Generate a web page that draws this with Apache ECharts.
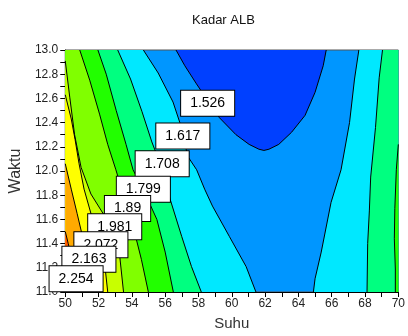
<!DOCTYPE html>
<html>
<head>
<meta charset="utf-8">
<script src="https://cdn.jsdelivr.net/npm/echarts@6/dist/echarts.min.js"></script>
<style>
  html, body { margin: 0; padding: 0; background: #fff; }
  #chart { width: 408px; height: 336px; }
</style>
</head>
<body>
<div id="chart"></div>
<script>
// contour levels (Kadar ALB) and band colours, low -> high
const levels = ['1.526', '1.617', '1.708', '1.799', '1.89', '1.981', '2.072', '2.163', '2.254']
const bandColors = ['#0040ff', '#0096ff', '#00e8ff', '#00ff80', '#22ff00', '#80ff00', '#c8ff00', '#ffff00', '#ffaa00', '#ff5500']

// contour lines, [Suhu, Waktu]
const cup1526 = [[56.65, 13], [57.18, 12.87], [57.88, 12.72], [58.66, 12.56], [59.26, 12.44], [60.25, 12.30],
  [61.04, 12.22], [61.63, 12.18], [61.93, 12.17], [62.23, 12.18], [62.82, 12.22], [63.59, 12.32],
  [64.40, 12.46], [65.00, 12.65], [65.49, 12.87], [65.67, 13]]
const left1617 = [[54.69, 13], [55.58, 12.81], [56.47, 12.57], [56.88, 12.40], [57.12, 12.26], [57.36, 12.12],
  [57.89, 12.01], [58.37, 11.85], [58.84, 11.71], [59.85, 11.46], [60.86, 11.21], [61.45, 11]]
const right1617 = [[67.63, 13], [67.37, 12.76], [67.07, 12.40], [66.56, 12.01], [65.96, 11.74], [65.37, 11.33],
  [65.00, 11.11], [64.90, 11]]
const left1708 = [[53.15, 13], [53.92, 12.76], [54.61, 12.49], [55.20, 12.24], [55.70, 12.06], [56.05, 11.89],
  [56.29, 11.77], [56.99, 11.46], [57.58, 11.21], [58.17, 11]]
const right1708 = [[69.05, 13], [68.85, 12.77], [68.63, 12.36], [68.34, 11.95], [68.26, 11.67], [68.16, 11.40], [68.12, 11]]
const left1799 = [[51.96, 13], [52.46, 12.80], [53.06, 12.50], [53.65, 12.22], [54.07, 12.01], [54.81, 11.81],
  [55.50, 11.60], [56.00, 11.33], [56.49, 11]]
const right1799 = [[70, 12.22], [69.88, 12.01], [69.79, 11.69], [69.76, 11.44], [69.82, 11.19], [69.82, 11]]
const left1890 = [[50.87, 13], [51.47, 12.75], [52.06, 12.47], [52.55, 12.22], [53.04, 12.01], [53.74, 11.69],
  [54.15, 11.50], [54.57, 11.27], [54.99, 11]]
const left1981 = [[50, 12.91], [50.27, 12.61], [50.56, 12.30], [50.95, 12.03], [51.54, 11.81], [52.31, 11.64],
  [52.97, 11.52], [53.26, 11.31], [53.50, 11]]
const left2072 = [[50, 12.63], [50.36, 12.43], [50.59, 12.26], [50.83, 12.06], [51.13, 11.85], [51.54, 11.65],
  [52.14, 11.39], [52.37, 11.23], [52.55, 11]]
const left2163 = [[50, 12.06], [50.36, 11.85], [50.71, 11.65], [51.07, 11.44], [51.42, 11.27], [51.72, 11.15], [51.96, 11]]
const left2254 = [[50, 11.50], [50.18, 11.40], [50.42, 11.26], [50.65, 11.11], [50.89, 11]]

// contour label positions [Suhu, Waktu]
const labelPos = [[58.55, 12.56], [57.06, 12.29], [55.82, 12.06], [54.69, 11.85], [53.74, 11.69],
  [52.97, 11.54], [52.14, 11.39], [51.42, 11.27], [50.65, 11.11]]

const xMin = 50
const xMax = 70
const yMin = 11
const yMax = 13

// each line: which level, which side holds the higher values
const contours = [
  { level: 0, pts: cup1526, side: null },
  { level: 1, pts: left1617, side: 'left' },
  { level: 1, pts: right1617, side: 'right' },
  { level: 2, pts: left1708, side: 'left' },
  { level: 2, pts: right1708, side: 'right' },
  { level: 3, pts: left1799, side: 'left' },
  { level: 3, pts: right1799, side: 'right' },
  { level: 4, pts: left1890, side: 'left' },
  { level: 5, pts: left1981, side: 'left' },
  { level: 6, pts: left2072, side: 'left' },
  { level: 7, pts: left2163, side: 'left' },
  { level: 8, pts: left2254, side: 'left' }
]

// filled regions: cup is the low band, the rest are "above level" regions closed on their side
const polys = contours.map(c => {
  if (c.side === null) {
    return { pts: c.pts, color: bandColors[0] }
  }
  const edge = c.side === 'left' ? xMin : xMax
  const pts = c.pts.slice()
  pts.push([edge, yMin])
  if (c.pts[0][1] === yMax) pts.push([edge, yMax])
  return { pts: pts, color: bandColors[c.level + 1] }
})

const font = 'Liberation Sans, Arial, sans-serif'

const series = []
series.push({
  type: 'custom',
  data: polys.map((p, i) => [i]),
  silent: true,
  z: 1,
  renderItem (params, api) {
    const p = polys[params.dataIndex]
    return {
      type: 'polygon',
      shape: { points: p.pts.map(pt => api.coord(pt)) },
      style: { fill: p.color, stroke: null }
    }
  }
})
contours.forEach(c => {
  series.push({
    type: 'line',
    data: c.pts,
    showSymbol: false,
    silent: true,
    z: 3,
    lineStyle: { color: '#000', width: 1 }
  })
})
series.push({
  type: 'scatter',
  data: labelPos.map((p, i) => [p[0], p[1], levels[i]]),
  symbolSize: 0,
  silent: true,
  z: 5,
  itemStyle: { opacity: 1 },
  emphasis: { disabled: true },
  label: {
    show: true,
    position: 'inside',
    formatter: p => p.value[2],
    fontFamily: font,
    fontSize: 14,
    color: '#000',
    opacity: 1,
    backgroundColor: '#fff',
    borderColor: '#000',
    borderWidth: 1,
    padding: [6, 9, 5, 9]
  }
})

const chart = echarts.init(document.getElementById('chart'))
chart.setOption({
  animation: false,
  title: {
    text: 'Kadar ALB',
    left: 187,
    top: 9,
    textStyle: { fontFamily: font, fontSize: 13, fontWeight: 'normal', color: '#111' }
  },
  grid: {
    left: 64,
    top: 50,
    right: 7,
    bottom: 43,
    show: true,
    backgroundColor: bandColors[1],
    borderColor: '#555',
    borderWidth: 1
  },
  xAxis: {
    type: 'value',
    min: xMin,
    max: xMax,
    interval: 1,
    name: 'Suhu',
    nameLocation: 'middle',
    nameGap: 24,
    nameTextStyle: { fontFamily: font, fontSize: 15, color: '#333' },
    axisLine: { lineStyle: { color: '#000' } },
    axisTick: { length: 5, lineStyle: { color: '#000' } },
    axisLabel: {
      fontFamily: font,
      fontSize: 12,
      color: '#222',
      margin: 6,
      formatter: v => (v % 2 === 0 ? String(v) : '')
    },
    splitLine: { show: false }
  },
  yAxis: {
    type: 'value',
    min: yMin,
    max: yMax,
    interval: 0.1,
    name: 'Waktu',
    nameLocation: 'middle',
    nameGap: 38,
    nameTextStyle: { fontFamily: font, fontSize: 16, color: '#333' },
    axisLine: { show: true, lineStyle: { color: '#000' } },
    axisTick: { length: 5, lineStyle: { color: '#000' } },
    axisLabel: {
      fontFamily: font,
      fontSize: 12,
      color: '#222',
      margin: 7,
      formatter: v => (Math.round(v * 10) % 2 === 0 ? v.toFixed(1) : '')
    },
    splitLine: { show: false }
  },
  series: series
})
</script>
</body>
</html>
